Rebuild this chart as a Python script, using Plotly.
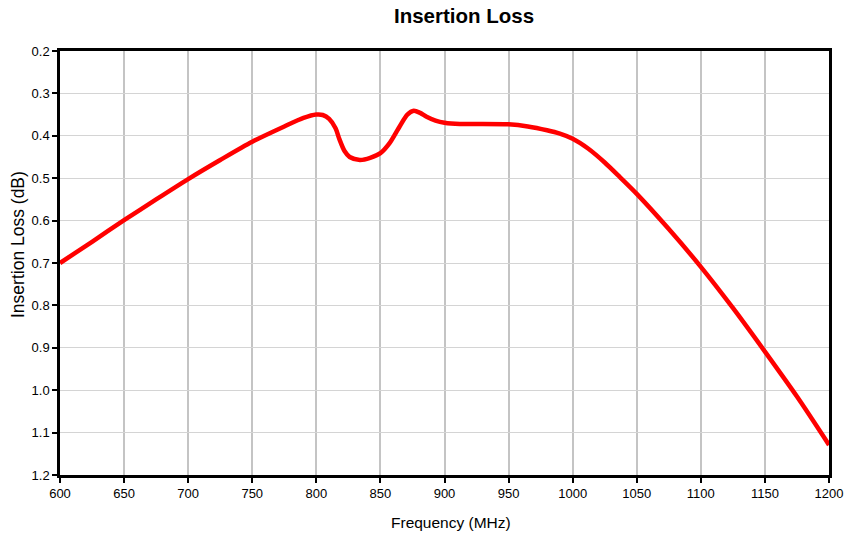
import plotly.graph_objects as go

freq_mhz = [600, 625, 650, 675, 700, 725, 750, 775, 790, 800, 805, 810, 815, 818, 822, 826,
            834, 842, 850, 857, 865, 871, 876, 881, 886, 893, 900, 912, 925, 950, 965, 980,
            990, 1000, 1012, 1025, 1037, 1050, 1075, 1100, 1125, 1150, 1175, 1200]
loss_db = [0.700, 0.650, 0.599, 0.550, 0.502, 0.457, 0.414, 0.378, 0.358, 0.350, 0.351, 0.360,
           0.382, 0.408, 0.436, 0.450, 0.457, 0.452, 0.441, 0.418, 0.378, 0.350, 0.341, 0.346,
           0.355, 0.364, 0.369, 0.372, 0.372, 0.373, 0.378, 0.387,
           0.395, 0.407, 0.430, 0.463, 0.498, 0.537, 0.620,
           0.709, 0.806, 0.909, 1.015, 1.129]

font = "Liberation Sans, Arial, sans-serif"

W, H = 846, 538
ML, MR, MT, MB = 60, 17, 51, 63

fig = go.Figure()
fig.add_trace(go.Scatter(x=freq_mhz, y=loss_db, mode="lines",
                         line=dict(color="#ff0000", width=4.5, shape="spline", smoothing=0.8),
                         showlegend=False, hoverinfo="x+y"))

fig.update_layout(
    width=W, height=H,
    margin=dict(l=ML, r=MR, t=MT, b=MB),
    paper_bgcolor="white", plot_bgcolor="white",
    font=dict(family=font, size=13, color="black"),
    title=dict(text="<b>Insertion Loss</b>", x=464 / W, xanchor="center", xref="container",
               y=1 - 16 / H, yanchor="middle", yref="container",
               font=dict(family=font, size=20.5, color="black")),
    xaxis=dict(range=[600, 1200], dtick=50, tick0=600, automargin=False,
               showgrid=True, gridcolor="#c4c4c4", gridwidth=2,
               showline=True, linecolor="black", linewidth=2.5, mirror=True,
               ticks="outside", ticklen=5, tickwidth=2, tickcolor="black",
               tickfont=dict(size=13),
               zeroline=False),
    yaxis=dict(range=[1.2, 0.2], dtick=0.1, tick0=0.2, tickformat=".1f", automargin=False,
               showgrid=True, gridcolor="#d4d4d4", gridwidth=1,
               showline=True, linecolor="black", linewidth=2.5, mirror=True,
               ticks="outside", ticklen=5, tickwidth=2, tickcolor="black",
               tickfont=dict(size=13),
               zeroline=False),
    annotations=[
        dict(text="Frequency (MHz)", xref="paper", yref="paper",
             x=(451 - ML) / (W - ML - MR), y=-(522 - (H - MB)) / (H - MT - MB),
             xanchor="center", yanchor="middle", showarrow=False,
             font=dict(family=font, size=15.5, color="black")),
        dict(text="Insertion Loss (dB)", xref="paper", yref="paper", textangle=-90,
             x=-(ML - 18) / (W - ML - MR), y=(H - MB - 245) / (H - MT - MB),
             xanchor="center", yanchor="middle", showarrow=False,
             font=dict(family=font, size=17.5, color="black")),
    ],
)

fig.write_html("out.html",
               config={"displayModeBar": False},
               post_script="document.body.style.margin='0';document.body.style.overflow='hidden';")
